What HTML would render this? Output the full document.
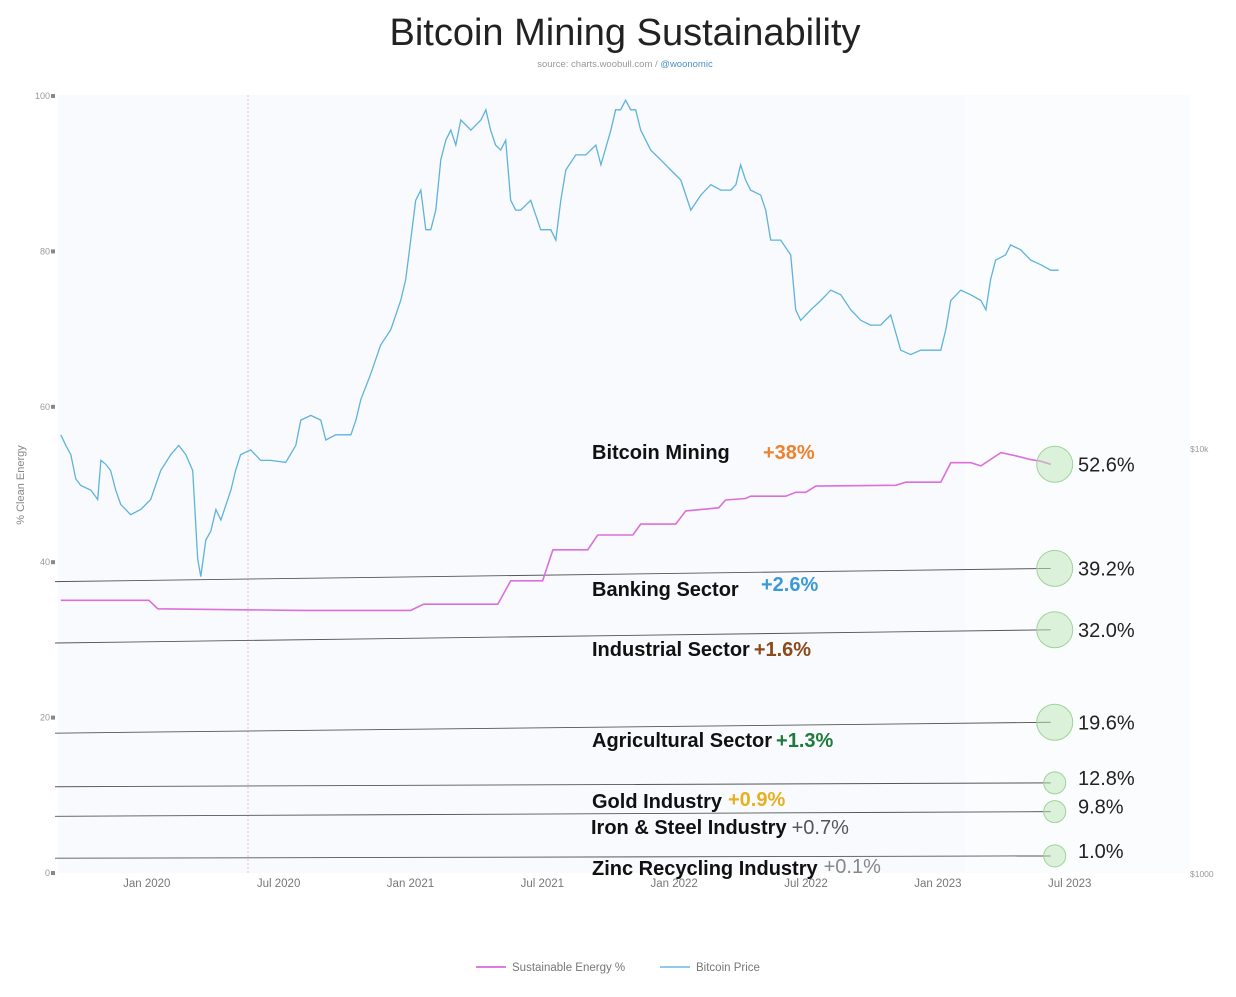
<!DOCTYPE html>
<html><head><meta charset="utf-8"><style>
html,body{margin:0;padding:0;background:#fff;}
svg{display:block;font-family:"Liberation Sans",sans-serif;}
</style></head><body>
<svg id="chart" width="1236" height="997" viewBox="0 0 1236 997">
<text x="625" y="45" text-anchor="middle" font-size="38" fill="#222">Bitcoin Mining Sustainability</text>
<text x="625" y="67" text-anchor="middle" font-size="9.5" fill="#999">source: charts.woobull.com / <tspan fill="#4a90c9">@woonomic</tspan></text>
<rect x="58" y="95" width="907" height="778" fill="#f8fafd"/>
<rect x="965" y="95" width="225" height="778" fill="#fbfcfe"/>
<line x1="248" y1="95" x2="248" y2="873" stroke="#e3c4c4" stroke-dasharray="2,2"/>
<text transform="translate(24,485) rotate(-90)" text-anchor="middle" font-size="11" fill="#888">% Clean Energy</text>
<text x="1190" y="452" font-size="8.5" fill="#999">$10k</text>
<text x="1190" y="877" font-size="8.5" fill="#999">$1000</text>
<g id="axes"></g>
<g id="sectors"></g>
<g id="series"></g>
<g font-size="20" font-weight="bold" fill="#111">
<text x="592" y="459">Bitcoin Mining<tspan x="763" fill="#f0812e">+38%</tspan></text>
<text x="592" y="596">Banking Sector<tspan x="761" dy="-5" fill="#3a9ad9">+2.6%</tspan></text>
<text x="592" y="656">Industrial Sector<tspan dx="4" fill="#8a4a1c">+1.6%</tspan></text>
<text x="592" y="747">Agricultural Sector<tspan dx="4" fill="#1e7b3a">+1.3%</tspan></text>
<text x="592" y="808">Gold Industry<tspan dx="6" dy="-2" fill="#e8b020">+0.9%</tspan></text>
<text x="591" y="834">Iron &amp; Steel Industry<tspan dx="5" fill="#555" font-weight="normal">+0.7%</tspan></text>
<text x="592" y="875">Zinc Recycling Industry<tspan dx="6" dy="-2" fill="#888" font-weight="normal">+0.1%</tspan></text>
</g>
<g>
<line x1="476" y1="967" x2="506" y2="967" stroke="#e07be0" stroke-width="2"/>
<text x="512" y="971" font-size="11.5" fill="#777">Sustainable Energy %</text>
<line x1="660" y1="967" x2="690" y2="967" stroke="#8fcbe6" stroke-width="2"/>
<text x="696" y="971" font-size="11.5" fill="#777">Bitcoin Price</text>
</g>
</svg>
<script>
const yTicks=[0,20,40,60,80,100];
const xTickLabels=["Jan 2020","Jul 2020","Jan 2021","Jul 2021","Jan 2022","Jul 2022","Jan 2023","Jul 2023"];
const xTickDates=[2020,2020.5,2021,2021.5,2022,2022.5,2023,2023.5];
const btcDates=[2019.674,2019.693,2019.712,2019.731,2019.750,2019.788,2019.814,2019.826,2019.845,2019.863,2019.882,2019.901,2019.939,2019.977,2020.015,2020.053,2020.091,2020.121,2020.148,2020.174,2020.193,2020.205,2020.224,2020.243,2020.262,2020.281,2020.319,2020.337,2020.356,2020.394,2020.432,2020.470,2020.527,2020.565,2020.584,2020.622,2020.660,2020.679,2020.717,2020.774,2020.793,2020.812,2020.849,2020.887,2020.925,2020.963,2020.982,2021.001,2021.020,2021.039,2021.058,2021.077,2021.096,2021.115,2021.134,2021.153,2021.172,2021.191,2021.229,2021.267,2021.286,2021.304,2021.323,2021.342,2021.361,2021.380,2021.399,2021.418,2021.456,2021.494,2021.532,2021.551,2021.570,2021.589,2021.627,2021.665,2021.703,2021.722,2021.760,2021.778,2021.797,2021.816,2021.835,2021.854,2021.873,2021.911,2021.949,2021.987,2022.025,2022.063,2022.101,2022.139,2022.177,2022.215,2022.234,2022.252,2022.271,2022.290,2022.328,2022.347,2022.366,2022.404,2022.442,2022.461,2022.480,2022.518,2022.556,2022.594,2022.632,2022.670,2022.708,2022.745,2022.783,2022.821,2022.859,2022.897,2022.935,2022.973,2023.011,2023.030,2023.049,2023.087,2023.125,2023.163,2023.182,2023.200,2023.219,2023.257,2023.276,2023.314,2023.352,2023.390,2023.428,2023.458];
const btcPrices=[10.8,10.2,9.7,8.5,8.2,8.0,7.6,9.4,9.2,8.9,8.0,7.4,7.0,7.2,7.6,8.9,9.7,10.2,9.7,8.9,5.5,5.0,6.1,6.4,7.2,6.8,8.0,8.9,9.7,9.95,9.4,9.4,9.3,10.2,11.7,12.0,11.7,10.5,10.8,10.8,11.7,13.1,15.0,17.6,19.1,22.4,25.1,31.1,38.6,40.8,32.9,32.9,36.6,48.1,53.5,56.5,52.1,59.7,56.5,59.7,63.1,56.5,52.1,50.7,53.5,38.6,36.6,36.6,38.6,32.9,32.9,31.1,38.6,45.5,49.4,49.4,52.1,46.8,56.5,63.1,63.1,66.5,63.1,63.1,56.5,50.7,48.1,45.5,43.1,36.6,39.7,42.0,40.8,40.8,42.0,46.8,43.1,40.8,39.7,36.6,31.1,31.1,28.7,21.3,20.1,21.3,22.4,23.7,23.1,21.3,20.1,19.6,19.6,20.7,17.1,16.7,17.1,17.1,17.1,19.1,22.4,23.7,23.1,22.4,21.3,25.1,27.9,28.7,30.3,29.5,27.9,27.2,26.4,26.4];
const energyDates=[2019.674,2020.008,2020.042,2020.584,2021.001,2021.050,2021.331,2021.380,2021.501,2021.540,2021.672,2021.710,2021.843,2021.873,2022.006,2022.044,2022.169,2022.195,2022.271,2022.290,2022.423,2022.461,2022.499,2022.537,2022.840,2022.878,2023.011,2023.049,2023.125,2023.163,2023.239,2023.295,2023.352,2023.390,2023.428];
const energyValues=[35.1,35.1,34.0,33.8,33.8,34.6,34.6,37.6,37.6,41.6,41.6,43.5,43.5,44.9,44.9,46.6,47.0,48.0,48.2,48.5,48.5,49.0,49.0,49.8,49.9,50.3,50.3,52.8,52.8,52.4,54.1,53.7,53.2,53.0,52.6];
const sectorNames=["banking","industrial","agricultural","gold","iron-steel","zinc"];
const sectorStart=[37.5,29.6,18.0,11.1,7.3,1.9];
const sectorEnd=[39.2,31.3,19.4,11.6,7.9,2.2];
const sectorLabels=["39.2%","32.0%","19.6%","12.8%","9.8%","1.0%"];
const sectorRadius=[18,18,18,11,11,11];
const bitcoinLabel="52.6%";

const NS="http://www.w3.org/2000/svg";
const X0=55,X1=1190,Y0=873,Y1=96;
const dateStart=2019.652,dateEnd=2019.652+(X1-X0)/263.7;
const xs=d=>X0+(d-dateStart)/(dateEnd-dateStart)*(X1-X0);
const ys=v=>Y0-v/100*(Y0-Y1);
const yp=p=>449-(Math.log10(p)-1)*424; // p in $k, log scale
const lastDate=2023.428;
function mk(tag,attrs,parent){const e=document.createElementNS(NS,tag);for(const k in attrs)e.setAttribute(k,attrs[k]);parent.appendChild(e);return e;}
const axes=document.getElementById('axes');
yTicks.forEach(v=>{
  const t=mk('text',{x:X0-5,y:ys(v)+3,'text-anchor':'end','font-size':9,fill:'#999'},axes);
  t.textContent=v;
  
  
  const m=mk('rect',{x:X0-4,y:ys(v)-2,width:4,height:4,fill:'#888'},axes);
  
  
});
xTickLabels.forEach((l,i)=>{
  const t=mk('text',{x:xs(xTickDates[i]),y:887,'text-anchor':'middle','font-size':11.5,fill:'#777'},axes);
  t.textContent=l;
  
  
});
const sec=document.getElementById('sectors');
sectorNames.forEach((n,i)=>{
  const ln=mk('line',{x1:X0,y1:ys(sectorStart[i]),x2:xs(lastDate),y2:ys(sectorEnd[i]),stroke:'#555','stroke-width':0.9},sec);
  
  
  const c=mk('circle',{cx:xs(lastDate)+4,cy:ys(sectorEnd[i]),r:sectorRadius[i],fill:'rgba(190,230,180,0.5)',stroke:'#9fd39a','stroke-width':1},sec);
  
  
  const t=mk('text',{x:1078,y:ys(sectorEnd[i])+7+(sectorRadius[i]<15?-5:0),'font-size':20,fill:'#222'},sec);
  t.textContent=sectorLabels[i];
  
  
});
const ser=document.getElementById('series');
const bp=mk('polyline',{points:btcDates.map((d,i)=>xs(d).toFixed(1)+','+yp(btcPrices[i]).toFixed(1)).join(' '),fill:'none',stroke:'#5fb3da','stroke-width':1.3},ser);


const ep=mk('polyline',{points:energyDates.map((d,i)=>xs(d).toFixed(1)+','+ys(energyValues[i]).toFixed(1)).join(' '),fill:'none',stroke:'#dc6fdc','stroke-width':1.6},ser);


const lv=energyValues[energyValues.length-1];
const bc=mk('circle',{cx:xs(lastDate)+4,cy:ys(lv),r:18,fill:'rgba(190,230,180,0.5)',stroke:'#9fd39a','stroke-width':1},ser);


const bt=mk('text',{x:1078,y:ys(lv)+7,'font-size':20,fill:'#222'},ser);
bt.textContent=bitcoinLabel;


</script>
</body></html>
